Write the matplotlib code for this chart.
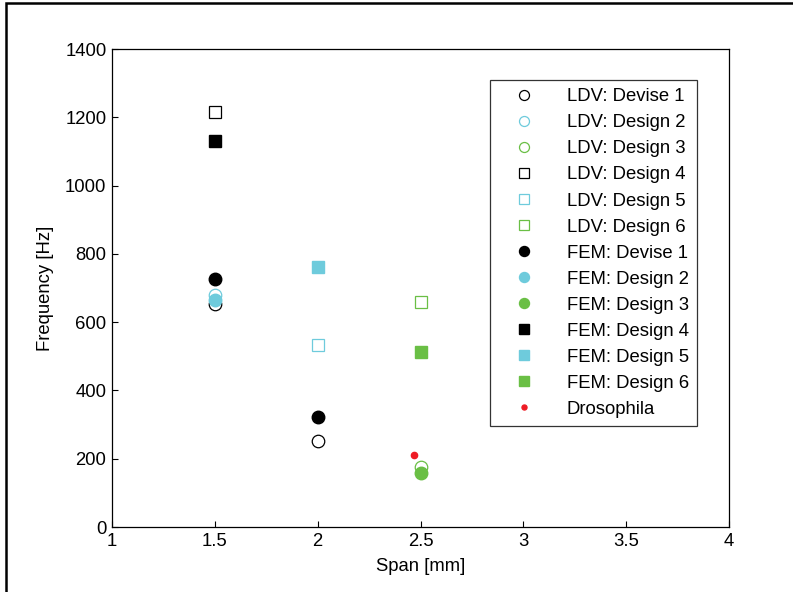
import numpy as np
import matplotlib.pyplot as plt
from matplotlib.patches import Rectangle

plt.rcParams['font.family'] = ['Liberation Sans', 'DejaVu Sans']

cyan = '#6ecbdc'
green = '#6abf45'
red = '#ee1c25'

# LDV measurements (open markers)
ldv_d1_x = [1.5, 2.0]
ldv_d1_y = [653, 252]
ldv_d2_x = [1.5]
ldv_d2_y = [680]
ldv_d3_x = [2.5]
ldv_d3_y = [176]
ldv_d4_x = [1.5]
ldv_d4_y = [1215]
ldv_d5_x = [2.0]
ldv_d5_y = [533]
ldv_d6_x = [2.5]
ldv_d6_y = [659]

# FEM results (filled markers)
fem_d1_x = [1.5, 2.0]
fem_d1_y = [726, 322]
fem_d2_x = [1.5]
fem_d2_y = [665]
fem_d3_x = [2.5]
fem_d3_y = [158]
fem_d4_x = [1.5]
fem_d4_y = [1130]
fem_d5_x = [2.0]
fem_d5_y = [762]
fem_d6_x = [2.5]
fem_d6_y = [512]

dros_x = [2.47]
dros_y = [211]

fig = plt.figure(figsize=(7.93, 5.92), dpi=100)
ax = fig.add_axes([112/793, 1-527/592, (729-112)/793, (527-49)/592])

fs = 13.3
ms = 9
ew = 0.9
ax.plot(ldv_d1_x, ldv_d1_y, 'o', ms=ms, mfc='white', mec='black', mew=ew, label='LDV: Devise 1')
ax.plot(ldv_d2_x, ldv_d2_y, 'o', ms=ms, mfc='none', mec=cyan, mew=ew, label='LDV: Design 2')
ax.plot(ldv_d3_x, ldv_d3_y, 'o', ms=ms, mfc='none', mec=green, mew=ew, label='LDV: Design 3')
ax.plot(ldv_d4_x, ldv_d4_y, 's', ms=ms-0.5, mfc='none', mec='black', mew=ew, label='LDV: Design 4')
ax.plot(ldv_d5_x, ldv_d5_y, 's', ms=ms-0.5, mfc='none', mec=cyan, mew=ew, label='LDV: Design 5')
ax.plot(ldv_d6_x, ldv_d6_y, 's', ms=ms-0.5, mfc='none', mec=green, mew=ew, label='LDV: Design 6')
ax.plot(fem_d1_x, fem_d1_y, 'o', ms=ms, color='black', label='FEM: Devise 1')
ax.plot(fem_d2_x, fem_d2_y, 'o', ms=ms, color=cyan, label='FEM: Design 2')
ax.plot(fem_d3_x, fem_d3_y, 'o', ms=ms, color=green, label='FEM: Design 3')
ax.plot(fem_d4_x, fem_d4_y, 's', ms=ms-0.5, color='black', label='FEM: Design 4')
ax.plot(fem_d5_x, fem_d5_y, 's', ms=ms-0.5, color=cyan, label='FEM: Design 5')
ax.plot(fem_d6_x, fem_d6_y, 's', ms=ms-0.5, color=green, label='FEM: Design 6')
ax.plot(dros_x, dros_y, 'o', ms=4.5, color=red, label='Drosophila')

ax.set_xlim(1, 4)
ax.set_ylim(0, 1400)
ax.set_xticks([1, 1.5, 2, 2.5, 3, 3.5, 4])
ax.set_xticklabels(['1', '1.5', '2', '2.5', '3', '3.5', '4'])
ax.set_yticks(np.arange(0, 1401, 200))
ax.tick_params(direction='in', labelsize=fs, length=4, width=0.8, pad=4)
ax.set_xlabel('Span [mm]', fontsize=fs, labelpad=6)
ax.set_ylabel('Frequency [Hz]', fontsize=fs, labelpad=8)
for s in ax.spines.values():
    s.set_linewidth(0.9)

leg = ax.legend(loc='upper right', bbox_to_anchor=(697/793, 1-80/592), bbox_transform=fig.transFigure,
                fontsize=fs, frameon=True, fancybox=False, edgecolor='black', markerscale=0.8,
                labelspacing=0.49, handlelength=2.8, handletextpad=0.9, borderpad=0.45,
                borderaxespad=0, numpoints=1)
leg.get_frame().set_linewidth(0.9)

fig.patches.append(Rectangle((5.5/793, -0.1), 1.2, 1.1 - 2.5/592, transform=fig.transFigure,
                             fill=False, edgecolor='black', linewidth=1.8))

fig.savefig('out.png', dpi=100)
